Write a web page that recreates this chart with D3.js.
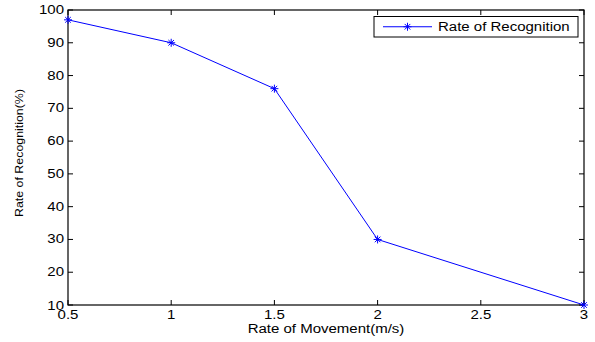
<!DOCTYPE html>
<html>
<head>
<meta charset="utf-8">
<script src="https://cdn.jsdelivr.net/npm/d3@7"></script>
<style>
body{margin:0;background:#fff;}
text{font-family:"Liberation Sans",Arial,sans-serif;fill:#000;}
</style>
</head>
<body>
<svg id="chart" width="595" height="342"></svg>
<script>
// data
var speeds = [0.5, 1, 1.5, 2, 3];
var rates = [97, 90, 76, 30, 10];
var xTicks = [0.5, 1, 1.5, 2, 2.5, 3];
var yTicks = [10, 20, 30, 40, 50, 60, 70, 80, 90, 100];
var seriesName = "Rate of Recognition";

var axL = 68, axR = 584, axT = 10, axB = 305, tk = 5;
var fs = 12, sx = 1.25; // wide helvetica look
var svg = d3.select("#chart");

var x = d3.scaleLinear().domain([0.5, 3]).range([axL, axR]);
var y = d3.scaleLinear().domain([10, 100]).range([axB, axT]);

var g = svg.append("g");

function label(txt, px, py, anchor){
	return g.append("text").text(txt)
		.attr("transform", "translate(" + px + "," + py + ") scale(" + sx + ",1)")
		.attr("text-anchor", anchor).attr("font-size", fs);
}

// box
g.append("rect")
	.attr("x", axL).attr("y", axT)
	.attr("width", axR - axL).attr("height", axB - axT)
	.attr("fill", "none").attr("stroke", "#000").attr("stroke-width", 1.2);

// x ticks (bottom + top, inside)
xTicks.forEach(function(v){
	var px = x(v);
	g.append("line").attr("x1", px).attr("x2", px).attr("y1", axB).attr("y2", axB - tk).attr("stroke", "#000");
	g.append("line").attr("x1", px).attr("x2", px).attr("y1", axT).attr("y2", axT + tk).attr("stroke", "#000");
	label(v, px, axB + 14, "middle");
});

// y ticks (left + right, inside)
yTicks.forEach(function(v){
	var py = y(v);
	g.append("line").attr("x1", axL).attr("x2", axL + tk).attr("y1", py).attr("y2", py).attr("stroke", "#000");
	g.append("line").attr("x1", axR).attr("x2", axR - tk).attr("y1", py).attr("y2", py).attr("stroke", "#000");
	label(v, axL - 4, v == 10 ? py + 5 : py + 4, "end");
});

// axis titles
label("Rate of Movement(m/s)", (axL + axR) / 2, 333, "middle");
g.append("text").text("Rate of Recognition(%)")
	.attr("transform", "translate(23,153) rotate(-90)")
	.attr("text-anchor", "middle").attr("font-size", 11)
	.attr("textLength", 128).attr("lengthAdjust", "spacingAndGlyphs");

// line
var pts = speeds.map(function(s, i){ return [x(s), y(rates[i])]; });
g.append("path")
	.attr("d", d3.line()(pts))
	.attr("fill", "none").attr("stroke", "#0000ff").attr("stroke-width", 1);

function star(cx, cy){
	var r = 4;
	var s = g.append("g").attr("stroke", "#0000ff").attr("stroke-width", 1);
	s.append("line").attr("x1", cx - r).attr("x2", cx + r).attr("y1", cy).attr("y2", cy);
	s.append("line").attr("x1", cx).attr("x2", cx).attr("y1", cy - r).attr("y2", cy + r);
	s.append("line").attr("x1", cx - r*0.7).attr("x2", cx + r*0.7).attr("y1", cy - r*0.7).attr("y2", cy + r*0.7);
	s.append("line").attr("x1", cx - r*0.7).attr("x2", cx + r*0.7).attr("y1", cy + r*0.7).attr("y2", cy - r*0.7);
}
pts.forEach(function(p){ star(p[0], p[1]); });

// legend
var lx = 374, ly = 16.5, lw = 204, lh = 20.5;
g.append("rect").attr("x", lx).attr("y", ly).attr("width", lw).attr("height", lh)
	.attr("fill", "#fff").attr("stroke", "#000");
g.append("line").attr("x1", lx + 9).attr("x2", lx + 58).attr("y1", ly + lh/2).attr("y2", ly + lh/2)
	.attr("stroke", "#0000ff");
star(lx + 33.5, ly + lh/2);
label(seriesName, lx + 64, ly + lh/2 + 4.5, "start");
</script>
</body>
</html>
